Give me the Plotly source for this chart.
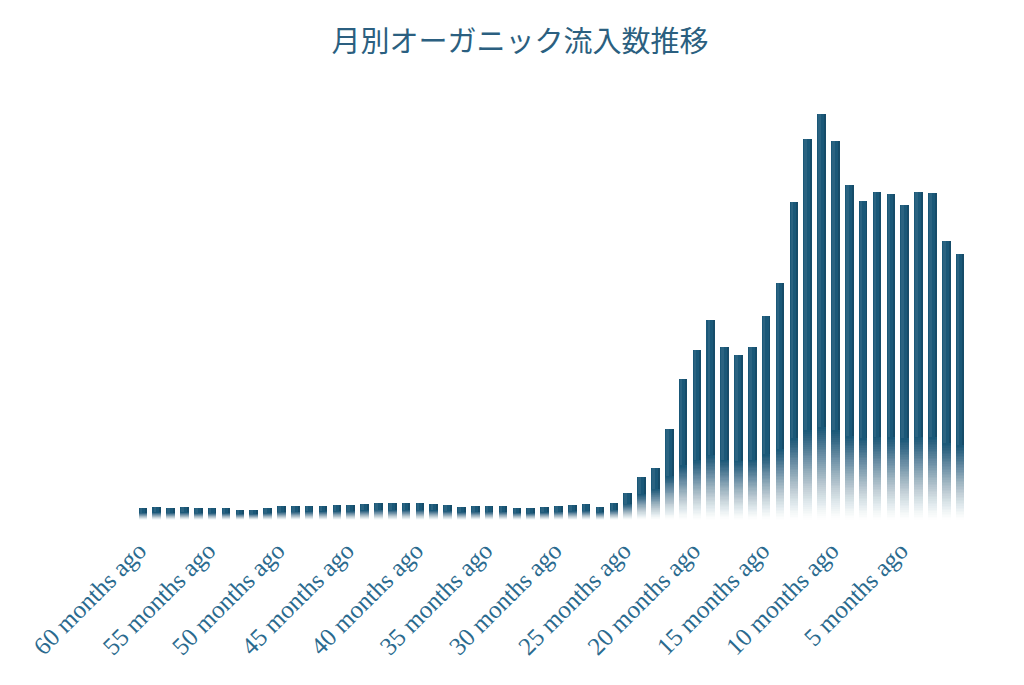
import numpy as np
import plotly.graph_objects as go

# ---- data ----
months_ago = list(range(60, 0, -1))
categories = [f"{m} months ago" for m in months_ago]
sessions = [123, 127, 123, 127, 117, 117, 117, 103, 103, 117,
            137, 140, 143, 143, 147, 150, 160, 173, 167, 167,
            167, 160, 150, 133, 140, 140, 140, 123, 117, 130,
            140, 150, 157, 133, 173, 270, 430, 520, 910, 1410,
            1700, 2000, 1730, 1650, 1730, 2040, 2370, 3180, 3810, 4060,
            3790, 3350, 3190, 3280, 3260, 3150, 3280, 3270, 2790, 2660]
tick_months = [60, 55, 50, 45, 40, 35, 30, 25, 20, 15, 10, 5]
tick_labels = [f"{m} months ago" for m in tick_months]
title_text = "月別オーガニック流入数推移"

# ---- styling ----
BAR_RGB = (26, 88, 120)
LABEL_COLOR = "#2a6a8e"
TITLE_COLOR = "#2b5f80"
N_FADE = 48
GAMMA = 1.3
BAR_W = 0.62

x = np.arange(len(sessions))
v = np.array(sessions, dtype=float)
fade = np.minimum(0.6 * v, 4.6 * np.sqrt(10 * v))

fig = go.Figure()
# solid upper part
fig.add_trace(go.Bar(
    x=x, base=fade, y=v - fade, width=BAR_W,
    marker=dict(color="rgb(%d,%d,%d)" % BAR_RGB, line=dict(width=0)),
    hovertext=categories, hoverinfo="text", showlegend=False))

# fading lower part: overlapping translucent layers, all ending at the fade top
targets = [((k + 0.5) / N_FADE) ** GAMMA for k in range(N_FADE)]
prev = 0.0
for k in range(N_FADE):
    a = 1 - (1 - targets[k]) / (1 - prev) if prev < 1 else 0
    prev = targets[k]
    lo = fade * k / N_FADE
    fig.add_trace(go.Bar(
        x=x, base=lo, y=fade - lo, width=BAR_W,
        marker=dict(color="rgba(%d,%d,%d,%.4f)" % (*BAR_RGB, a), line=dict(width=0)),
        hoverinfo="skip", showlegend=False))

# subtle cylinder shading on the solid part
fig.add_trace(go.Bar(
    x=x, base=fade, y=v - fade, width=BAR_W * 0.3, offset=-BAR_W / 2 + BAR_W * 0.12,
    marker=dict(color="rgba(255,255,255,0.07)", line=dict(width=0)),
    hoverinfo="skip", showlegend=False))
fig.add_trace(go.Bar(
    x=x, base=fade, y=v - fade, width=BAR_W * 0.22, offset=BAR_W / 2 - BAR_W * 0.22,
    marker=dict(color="rgba(10,40,60,0.25)", line=dict(width=0)),
    hoverinfo="skip", showlegend=False))

tick_idx = [months_ago.index(m) for m in tick_months]

fig.update_layout(
    width=1024, height=685,
    barmode="overlay",
    bargap=0,
    paper_bgcolor="white", plot_bgcolor="white",
    margin=dict(l=128, r=65, t=92, b=173),
    title=dict(text=title_text, x=0.5, xanchor="center", y=0.95, yanchor="middle",
               font=dict(family="Noto Sans CJK JP, serif", size=29, color=TITLE_COLOR)),
    xaxis=dict(range=[-0.5, len(sessions) - 0.5], tickmode="array",
               tickvals=tick_idx, ticktext=tick_labels, tickangle=-45,
               ticklabelstandoff=10, ticklabelshift=-4,
               showgrid=False, zeroline=False, showline=False, ticks="",
               tickfont=dict(family="Liberation Serif, serif", size=25, color=LABEL_COLOR)),
    yaxis=dict(range=[0, 4200], visible=False, showgrid=False, zeroline=False),
)

fig.write_html("out.html")
